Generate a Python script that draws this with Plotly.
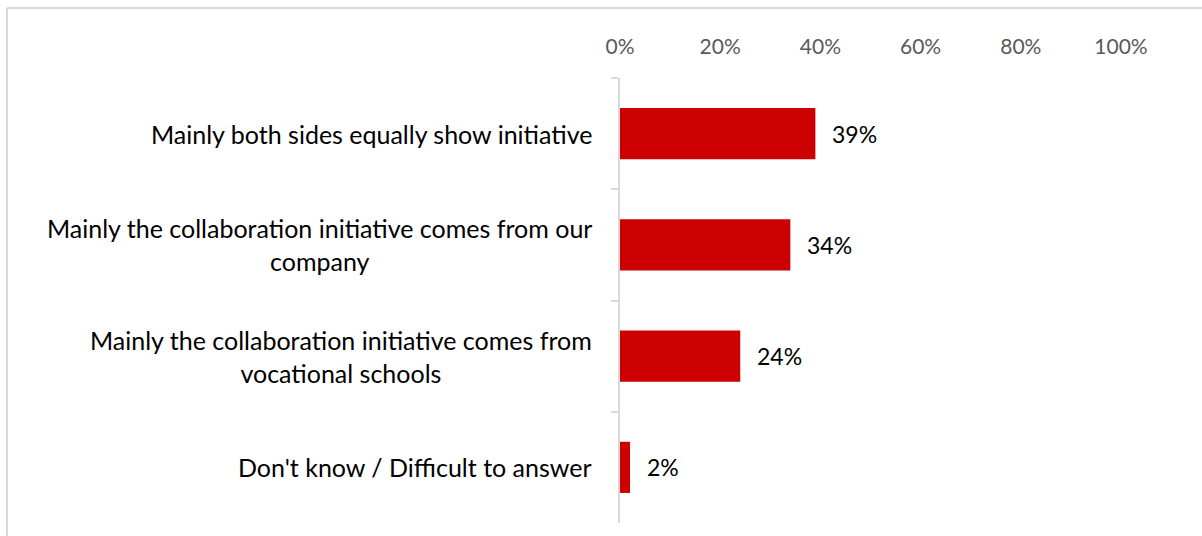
import plotly.graph_objects as go

categories = [
    "Mainly both sides equally show initiative",
    "Mainly the collaboration initiative comes from our<br>company",
    "Mainly the collaboration initiative comes from<br>vocational schools",
    "Don't know / Difficult to answer",
]
shares = [0.39, 0.34, 0.24, 0.02]
tick_vals = [0, 0.2, 0.4, 0.6, 0.8, 1.0]
tick_text = ["0%", "20%", "40%", "60%", "80%", "100%"]

W, H = 1202, 536
L, R, T, B = 620, 81, 78, 13
plot_w = W - L - R
plot_h = H - T - B

BAR = "#CC0000"
GRID = "#D9D9D9"
FONT = "Lato, Open Sans, sans-serif"

fig = go.Figure(
    go.Bar(
        x=shares,
        y=categories,
        orientation="h",
        marker=dict(color=BAR, line=dict(width=0)),
        width=0.46,
        hoverinfo="skip",
    )
)

annotations = []
for cat, v in zip(categories, shares):
    # category label, centered lines, right edge near the axis
    annotations.append(dict(
        xref="paper", yref="y", x=0, y=cat,
        xanchor="right", yanchor="middle", xshift=-26,
        text=cat, showarrow=False, align="center",
        font=dict(family=FONT, size=25, color="#000000"),
    ))
    # value label after the bar
    annotations.append(dict(
        xref="x", yref="y", x=v, y=cat,
        xanchor="left", yanchor="middle", xshift=15,
        text=f"{round(v * 100)}%", showarrow=False,
        font=dict(family=FONT, size=23, color="#000000"),
    ))

# outer chart frame (top and left edges)
def px_to_paper_x(px):
    return (px - L) / plot_w

def px_to_paper_y(py):
    return (H - B - py) / plot_h

frame_x = px_to_paper_x(7)
frame_y = px_to_paper_y(8)
shapes = [
    dict(type="line", xref="paper", yref="paper",
         x0=frame_x, x1=px_to_paper_x(W + 10), y0=frame_y, y1=frame_y,
         line=dict(color=GRID, width=2)),
    dict(type="line", xref="paper", yref="paper",
         x0=frame_x, x1=frame_x, y0=frame_y, y1=px_to_paper_y(H + 10),
         line=dict(color=GRID, width=2)),
]

fig.update_layout(
    width=W, height=H,
    margin=dict(l=L, r=R, t=T, b=B, pad=0),
    paper_bgcolor="white", plot_bgcolor="white",
    showlegend=False,
    annotations=annotations,
    shapes=shapes,
    xaxis=dict(
        side="top", range=[0, 1], tickvals=tick_vals, ticktext=tick_text,
        showgrid=False, zeroline=False, showline=False, ticks="",
        tickfont=dict(family=FONT, size=21, color="#595959"),
        ticklabelstandoff=19,
        fixedrange=True,
    ),
    yaxis=dict(
        autorange="reversed", showticklabels=False,
        showgrid=False, zeroline=False,
        showline=True, linecolor=GRID, linewidth=2,
        ticks="outside", tickson="boundaries", ticklen=7,
        tickcolor=GRID, tickwidth=2,
        fixedrange=True,
    ),
)

fig.write_html("out.html")
